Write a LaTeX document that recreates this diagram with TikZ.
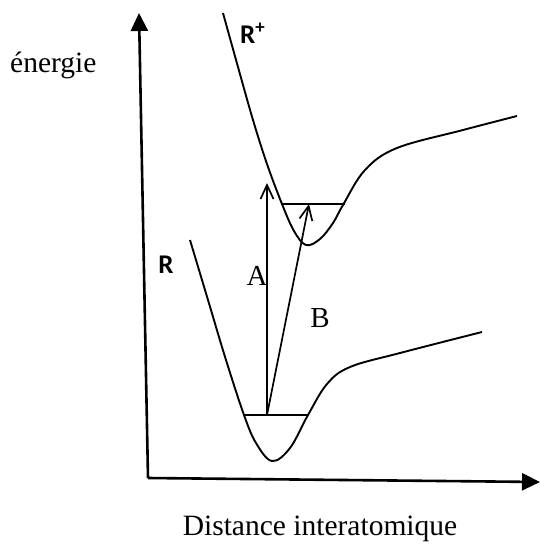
\documentclass[tikz,border=0pt]{standalone}
\usepackage{fontspec}
\setmainfont{Liberation Serif}
\newfontfamily\labelfont{Carlito}
\usepackage{tikz}
\usetikzlibrary{arrows.meta, positioning}
\tikzset{
    axis/.style={line width=2.6pt, -{Triangle[length=18pt,width=17pt]}},
    curve/.style={line width=1.9pt, line join=round},
    level/.style={line width=1.8pt},
    transition/.style={line width=1.7pt, -{Straight Barb[length=14pt,width=13pt,line width=1.7pt]}},
    axislabel/.style={font=\fontsize{29.5}{34}\selectfont, inner sep=0pt},
    letter/.style={font=\fontsize{29}{34}\selectfont, inner sep=0pt},
    state/.style={font=\labelfont\bfseries\fontsize{27}{32}\selectfont, inner sep=0pt}
}
\begin{document}
\begin{tikzpicture}[x=1pt, y=-1pt]
    \useasboundingbox (0,0) rectangle (540,544);
    % axes
    \coordinate (O) at (148,478);
    \coordinate (ytip) at (139,13);
    \coordinate (xtip) at (540,482);
    \draw [axis] (O) -- (ytip);
    \draw [axis] (O) -- (xtip);
    \node (energy) [axislabel, anchor=base west] at (10,72) {énergie};
    \node (dist) [axislabel, anchor=base] at (320,535) {Distance interatomique};

    % ground state R
    \draw [curve] plot [smooth, tension=0.6] coordinates {(190,240) (208,300) (226,360) (244,415) (256,443) (272,461) (290,448) (308,415) (327,384) (350,367) (400,353) (482,332)};
    % ion R+
    \draw [curve] plot [smooth, tension=0.6] coordinates {(223,13) (238,67) (253,120) (267,164) (282,204) (294,231) (306,245) (320,239) (333,223) (343,205) (365,170) (397,148) (463,130) (517,116)};

    % vibrational levels
    \coordinate (r0a) at (244,415);
    \coordinate (r0b) at (308,415);
    \coordinate (p0a) at (282,204);
    \coordinate (p0b) at (345,204);
    \draw [level] (r0a) -- (r0b);
    \draw [level] (p0a) -- (p0b);

    % transitions
    \coordinate (start) at (267,415);
    \coordinate (topA) at (267,183);
    \coordinate (topB) at (309,204);
    \draw [transition] (start) -- (topA);
    \draw [transition] (start) -- (topB);
    \node (labA) [letter, anchor=base] at (257,285) {A};
    \node (labB) [letter, anchor=base] at (320,327) {B};

    \node (R) [state, anchor=base] at (166,273) {R};
    \node (Rp) [state, anchor=base west] at (240,43) {R\textsuperscript{+}};
\end{tikzpicture}
\end{document}
